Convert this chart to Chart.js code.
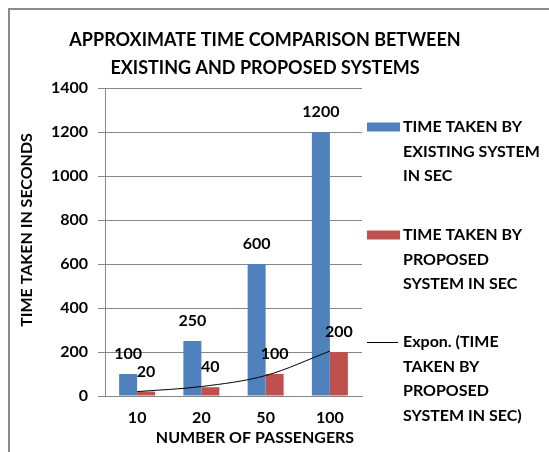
<!DOCTYPE html>
<html>
<head>
<meta charset="utf-8">
<script src="https://cdn.jsdelivr.net/npm/chart.js@4.4.0/dist/chart.umd.min.js"></script>
<style>
html, body { margin: 0; padding: 0; background: #fff; }
</style>
</head>
<body>
<canvas id="chart" width="549" height="452"></canvas>
<script>
var passengers = ['10', '20', '50', '100'];
var existingTimes = [100, 250, 600, 1200];
var proposedTimes = [20, 40, 100, 200];
// exponential trendline of the proposed series
var trendTimes = [20, 43, 93, 204];
var yMax = 1400;
var yStep = 200;

var titleLines = ['APPROXIMATE TIME COMPARISON BETWEEN', 'EXISTING AND PROPOSED SYSTEMS'];
var xTitle = 'NUMBER OF PASSENGERS';
var yTitle = 'TIME TAKEN IN SECONDS';
var legendLines = [
	['TIME TAKEN BY', 'EXISTING SYSTEM', 'IN SEC'],
	['TIME TAKEN BY', 'PROPOSED', 'SYSTEM IN SEC'],
	['Expon. (TIME', 'TAKEN BY', 'PROPOSED', 'SYSTEM IN SEC)']
];

var FONT = 'Lato, "Liberation Sans", sans-serif';
var BLUE = '#4f81bd';
var RED = '#c0504d';
var GRID = '#868686';

var extras = {
	id: 'extras',
	beforeDraw: function (chart) {
		var ctx = chart.ctx;
		ctx.save();
		ctx.strokeStyle = '#8c8c8c';
		ctx.lineWidth = 2;
		ctx.strokeRect(9, 9, 620, 520);
		ctx.restore();
	},
	afterDraw: function (chart) {
		var ctx = chart.ctx;
		ctx.save();
		ctx.fillStyle = '#000';
		ctx.textAlign = 'center';
		ctx.textBaseline = 'middle';

		ctx.font = 'bold 18px ' + FONT;
		titleLines.forEach(function (t, i) {
			ctx.fillText(t, 265, 40 + i * 28);
		});

		ctx.font = 'bold 16px ' + FONT;
		ctx.fillText(xTitle, 255, 438);
		ctx.save();
		ctx.translate(27, 230);
		ctx.rotate(-Math.PI / 2);
		ctx.fillText(yTitle, 0, 0);
		ctx.restore();

		// value labels above the bars
		[0, 1].forEach(function (di) {
			var values = chart.data.datasets[di].data;
			chart.getDatasetMeta(di).data.forEach(function (bar, i) {
				ctx.fillText(values[i], bar.x, bar.y - 20);
			});
		});

		// legend
		var tops = [127, 235, 342];
		ctx.textAlign = 'left';
		ctx.font = 'bold 16px ' + FONT;
		legendLines.forEach(function (lines, k) {
			var y = tops[k];
			if (k < 2) {
				ctx.fillStyle = k == 0 ? BLUE : RED;
				ctx.fillRect(367, y - 4.5, 33, 9);
			} else {
				ctx.strokeStyle = '#000';
				ctx.lineWidth = 1;
				ctx.beginPath();
				ctx.moveTo(367, y + 0.5);
				ctx.lineTo(398, y + 0.5);
				ctx.stroke();
			}
			ctx.fillStyle = '#000';
			lines.forEach(function (line, j) {
				ctx.fillText(line, 403, y + j * 24.5);
			});
		});
		ctx.restore();
	}
};

new Chart(document.getElementById('chart'), {
	type: 'bar',
	data: {
		labels: passengers,
		datasets: [
			{
				label: 'TIME TAKEN BY EXISTING SYSTEM IN SEC',
				data: existingTimes,
				backgroundColor: BLUE,
				categoryPercentage: 0.56,
				barPercentage: 1,
				order: 1
			},
			{
				label: 'TIME TAKEN BY PROPOSED SYSTEM IN SEC',
				data: proposedTimes,
				backgroundColor: RED,
				categoryPercentage: 0.56,
				barPercentage: 1,
				order: 1
			},
			{
				type: 'line',
				label: 'Expon. (TIME TAKEN BY PROPOSED SYSTEM IN SEC)',
				data: trendTimes,
				borderColor: '#000',
				borderWidth: 1,
				pointRadius: 0,
				cubicInterpolationMode: 'monotone',
				fill: false,
				order: 0
			}
		]
	},
	options: {
		responsive: false,
		animation: false,
		devicePixelRatio: 1,
		layout: { padding: { top: 88, right: 187, left: 0, bottom: 0 } },
		plugins: {
			legend: { display: false },
			title: { display: false },
			tooltip: { enabled: false }
		},
		scales: {
			x: {
				grid: { display: false, drawTicks: false },
				border: { display: true, color: GRID, width: 1 },
				ticks: { color: '#000', padding: 12, font: { family: FONT, size: 16, weight: 'bold' } },
				afterFit: function (scale) { scale.height = 56; }
			},
			y: {
				min: 0,
				max: yMax,
				ticks: {
					stepSize: yStep,
					color: '#000',
					padding: 10,
					font: { family: FONT, size: 16, weight: 'bold' },
					callback: function (v) { return String(v); }
				},
				grid: { color: GRID, tickLength: 7 },
				border: { color: GRID },
				afterFit: function (scale) { scale.width = 105; }
			}
		}
	},
	plugins: [extras]
});
</script>
</body>
</html>
